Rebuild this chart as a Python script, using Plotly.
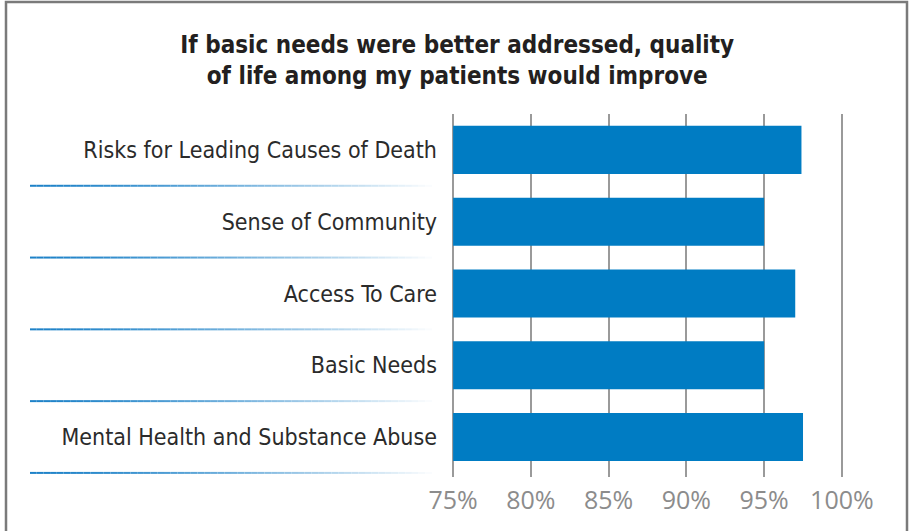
import plotly.graph_objects as go

categories = [
    "Mental Health and Substance Abuse",
    "Basic Needs",
    "Access To Care",
    "Sense of Community",
    "Risks for Leading Causes of Death",
]
values = [97.5, 95.0, 97.0, 95.0, 97.4]
axis_start = 75
tick_vals = [75, 80, 85, 90, 95, 100]
tick_text = ["75%", "80%", "85%", "90%", "95%", "100%"]
title_text = "If basic needs were better addressed, quality<br>of life among my patients would improve"

W, H = 909, 531
L, R, T, B = 450, 909 - 845, 114, 531 - 477
pw, ph = W - L - R, H - T - B

def px_to_paper_x(x):
    return (x - L) / pw

def px_to_paper_y(y):
    return (H - B - y) / ph

fig = go.Figure(go.Bar(
    x=[v - axis_start for v in values], base=axis_start,
    y=categories, orientation="h",
    marker=dict(color="#007cc3", line=dict(width=0)),
    hoverinfo="skip",
))

shapes = []
# gradient separators under each category label
n_seg = 60
x_start, x_end = 30, 432
c0 = (30, 130, 200)
for i in range(len(categories)):
    yb = i - 0.5
    for s in range(n_seg):
        t = (s / n_seg) ** 1.4
        col = tuple(int(round(c0[k] + (255 - c0[k]) * t)) for k in range(3))
        xa = x_start + (x_end - x_start) * s / n_seg
        xb = x_start + (x_end - x_start) * (s + 1) / n_seg
        shapes.append(dict(
            type="line", xref="paper", yref="y",
            x0=px_to_paper_x(xa), x1=px_to_paper_x(xb), y0=yb, y1=yb,
            line=dict(color="rgb(%d,%d,%d)" % col, width=2), layer="below",
        ))

# outer frame (open at bottom)
fl, fr, ft, fb = px_to_paper_x(6), px_to_paper_x(907), px_to_paper_y(2), px_to_paper_y(545)
shapes.append(dict(
    type="path", xref="paper", yref="paper",
    path=f"M {fl},{fb} L {fl},{ft} L {fr},{ft} L {fr},{fb}",
    line=dict(color="#7a7a7a", width=2.5),
))

fig.update_layout(
    width=W, height=H,
    margin=dict(l=L, r=R, t=T, b=B, pad=0),
    paper_bgcolor="white", plot_bgcolor="white",
    showlegend=False,
    bargap=0.33,
    title=dict(
        text="<b>" + title_text + "</b>",
        x=0.503, xanchor="center", xref="container",
        y=1 - 53 / H, yanchor="top", yref="container",
        font=dict(family="Liberation Sans Narrow, DejaVu Sans Condensed, sans-serif", size=24, color="#231f20"),
    ),
    xaxis=dict(
        range=[74.8, 100.2],
        tickvals=tick_vals, ticktext=tick_text,
        showgrid=True, gridcolor="#9a9a9a", gridwidth=1.5,
        zeroline=False, showline=False, ticks="",
        ticklabelstandoff=6,
        tickfont=dict(family="Open Sans, Liberation Sans, sans-serif", size=25, color="#8c8c8c"),
        fixedrange=True,
    ),
    yaxis=dict(
        type="category",
        categoryorder="array", categoryarray=categories,
        range=[-0.557, 4.5],
        showgrid=False, zeroline=False, showline=False, ticks="",
        ticklabelstandoff=12,
        tickfont=dict(family="Liberation Sans Narrow, DejaVu Sans Condensed, sans-serif", size=23, color="#2b2b2b"),
        fixedrange=True,
    ),
    shapes=shapes,
)

fig.write_html(
    "out.html",
    config={"displayModeBar": False},
    post_script="document.body.style.margin='0';document.body.style.overflow='hidden';",
)
